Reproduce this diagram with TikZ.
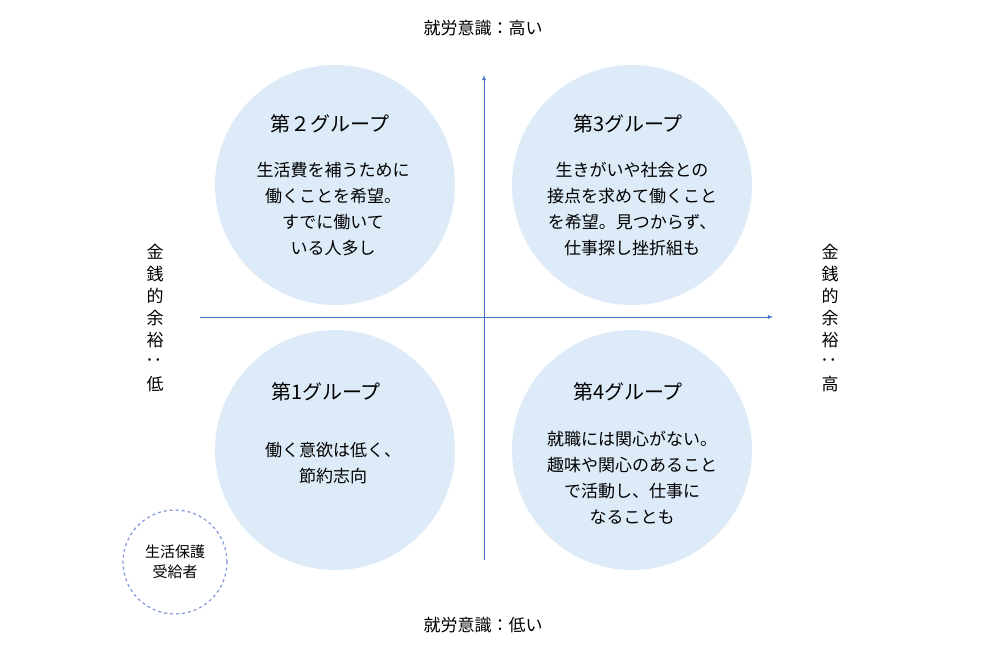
\documentclass[tikz,border=0pt]{standalone}
\usepackage{fontspec}
\setmainfont{Noto Sans CJK JP}
\definecolor{axisblue}{RGB}{68,114,196}
\definecolor{groupfill}{RGB}{221,234,247}
\definecolor{dashblue}{RGB}{130,150,220}
\tikzset{every picture/.style={line width=0.75pt}}
\tikzset{
  group/.style={circle,fill=groupfill,minimum size=240pt,inner sep=0pt},
  title/.style={font=\fontsize{20}{24}\selectfont},
  body/.style={font=\fontsize{17}{26}\selectfont,align=center},
  label/.style={font=\fontsize{17}{22}\selectfont,align=center}
}
\begin{document}
\begin{tikzpicture}[x=1pt,y=-1pt]
\useasboundingbox (0,0) rectangle (982,653);

% circles
\node[group] (g2) at (335,185) {};
\node[group] (g3) at (632,185) {};
\node[group] (g1) at (335,450) {};
\node[group] (g4) at (632,450) {};
\node[circle,draw=dashblue,dashed,line width=1.2pt,minimum size=104pt] (hogo) at (175,562) {};

% axes
\coordinate (ybot) at (484,560);
\coordinate (ytop) at (484,75);
\coordinate (xlft) at (200,317);
\coordinate (xrgt) at (773,317);
\draw[axisblue,-latex] (ybot) -- (ytop);
\draw[axisblue,-latex] (xlft) -- (xrgt);

% titles
\node[title] (t2) at (330,124) {第２グループ};
\node[title] (t3) at (628,124) {第3グループ};
\node[title] (t1) at (326,392) {第1グループ};
\node[title] (t4) at (628,392) {第4グループ};

% texts
\node[body] (b2) at (333,209) {生活費を補うために\\働くことを希望。\\すでに働いて\\いる人多し};
\node[body] (b3) at (632,209) {生きがいや社会との\\接点を求めて働くこと\\を希望。見つからず、\\仕事探し挫折組も};
\node[body] (b1) at (333,463) {働く意欲は低く、\\節約志向};
\node[body] (b4) at (632,478) {就職には関心がない。\\趣味や関心のあること\\で活動し、仕事に\\なることも};
\node[font=\fontsize{15}{20}\selectfont,align=center] (hogot) at (hogo) {生活保護\\受給者};

% axis labels
\node[label] (top) at (483,28) {就労意識：高い};
\node[label] (bot) at (483,625) {就労意識：低い};
\node[label] (lft) at (155,318) {金\\銭\\的\\余\\裕\\\rotatebox{90}{：}\\低};
\node[label] (rgt) at (830,318) {金\\銭\\的\\余\\裕\\\rotatebox{90}{：}\\高};
\end{tikzpicture}
\end{document}
